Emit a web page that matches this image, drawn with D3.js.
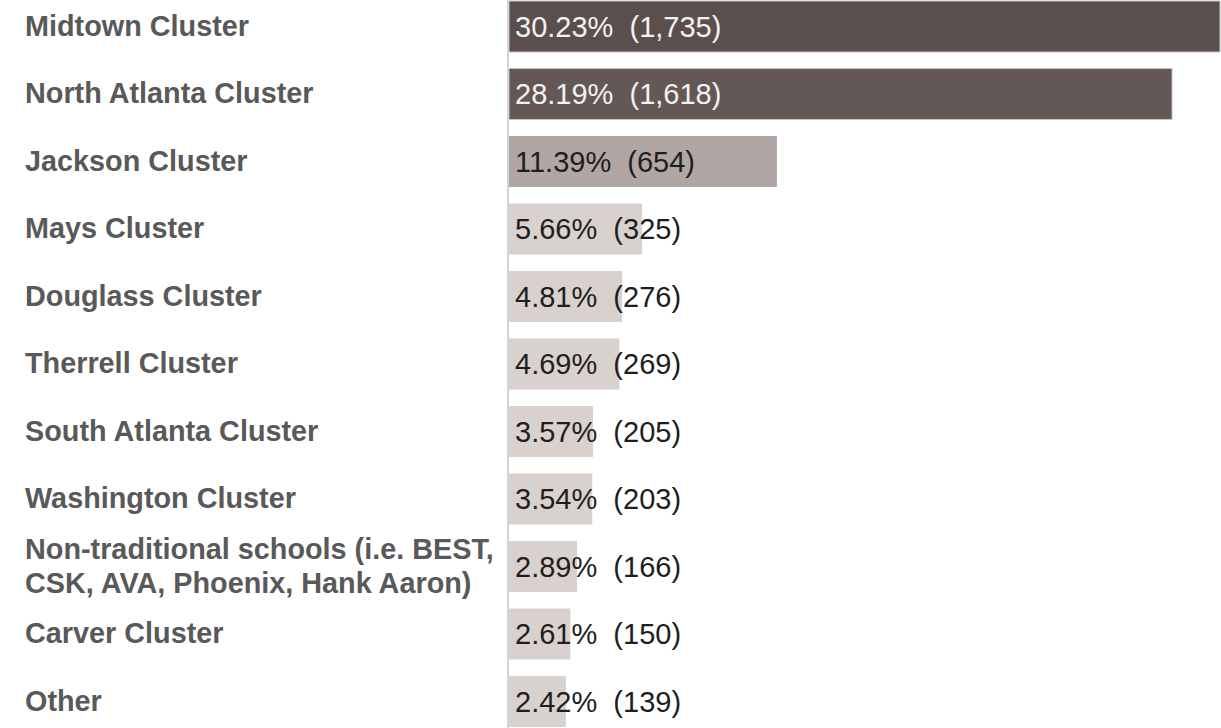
<!DOCTYPE html>
<html>
<head>
<meta charset="utf-8">
<script src="https://cdn.jsdelivr.net/npm/d3@7"></script>
<style>
  html, body { margin: 0; padding: 0; background: #fff; }
  svg { display: block; }
</style>
</head>
<body>
<svg id="chart" width="1221" height="728"></svg>
<script>
const categories = [
  "Midtown Cluster",
  "North Atlanta Cluster",
  "Jackson Cluster",
  "Mays Cluster",
  "Douglass Cluster",
  "Therrell Cluster",
  "South Atlanta Cluster",
  "Washington Cluster",
  "Non-traditional schools (i.e. BEST,|CSK, AVA, Phoenix, Hank Aaron)",
  "Carver Cluster",
  "Other"
];
const percents = [30.23, 28.19, 11.39, 5.66, 4.81, 4.69, 3.57, 3.54, 2.89, 2.61, 2.42];
const counts = [1735, 1618, 654, 325, 276, 269, 205, 203, 166, 150, 139];

const W = 1221, H = 728;
const axisX = 509;
const svg = d3.select("#chart");

const x = d3.scaleLinear().domain([0, 30.23]).range([axisX, 1220]);
const y = d3.scaleBand().domain(categories).range([-7.25, 735.25])
  .paddingInner(0.2444).paddingOuter(0.1222);

const color = d3.scaleLinear()
  .domain([5.66, 11.39, 30.23])
  .range(["#d9d1ce", "#b0a6a3", "#5a4f4c"])
  .clamp(true);

const data = categories.map((c, i) => ({ c, p: percents[i], n: counts[i] }));
const fmt = d3.format(",");

// bars
svg.append("g").selectAll("rect").data(data).join("rect")
  .attr("x", axisX)
  .attr("y", d => y(d.c))
  .attr("width", d => x(d.p) - axisX)
  .attr("height", y.bandwidth())
  .attr("fill", d => color(d.p))
  .attr("stroke", d => d.p > 20 ? "#c9c3c1" : "none")
  .attr("stroke-width", 1);

// axis line
svg.append("line")
  .attr("x1", axisX - 1).attr("x2", axisX - 1)
  .attr("y1", 0).attr("y2", H)
  .attr("stroke", "#d4d4d4").attr("stroke-width", 2);

// value labels
svg.append("g").selectAll("text").data(data).join("text")
  .attr("x", 515)
  .attr("y", d => y(d.c) + y.bandwidth() / 2)
  .attr("dy", "0.35em")
  .attr("font-family", "'Liberation Sans', Arial, sans-serif")
  .attr("font-size", 29)
  .attr("fill", d => d.p > 20 ? "#f2f2f2" : "#1e1e1e")
  .attr("xml:space", "preserve")
  .style("white-space", "pre")
  .text(d => d.p.toFixed(2) + "%  (" + fmt(d.n) + ")");

// category labels
const lab = svg.append("g").selectAll("text").data(data).join("text")
  .attr("x", 25)
  .attr("y", d => y(d.c) + y.bandwidth() / 2)
  .attr("font-family", "'Liberation Sans', Arial, sans-serif")
  .attr("font-size", 28.8)
  .attr("font-weight", "bold")
  .attr("fill", "#595959");
lab.each(function(d) {
  const lines = d.c.split("|");
  const t = d3.select(this);
  const lh = 34;
  lines.forEach((ln, k) => {
    t.append("tspan")
      .attr("x", 25)
      .attr("dy", k === 0 ? (0.35 * 28.8 - (lines.length - 1) * lh / 2 - 1) + "px" : lh + "px")
      .text(ln);
  });
});
</script>
</body>
</html>
